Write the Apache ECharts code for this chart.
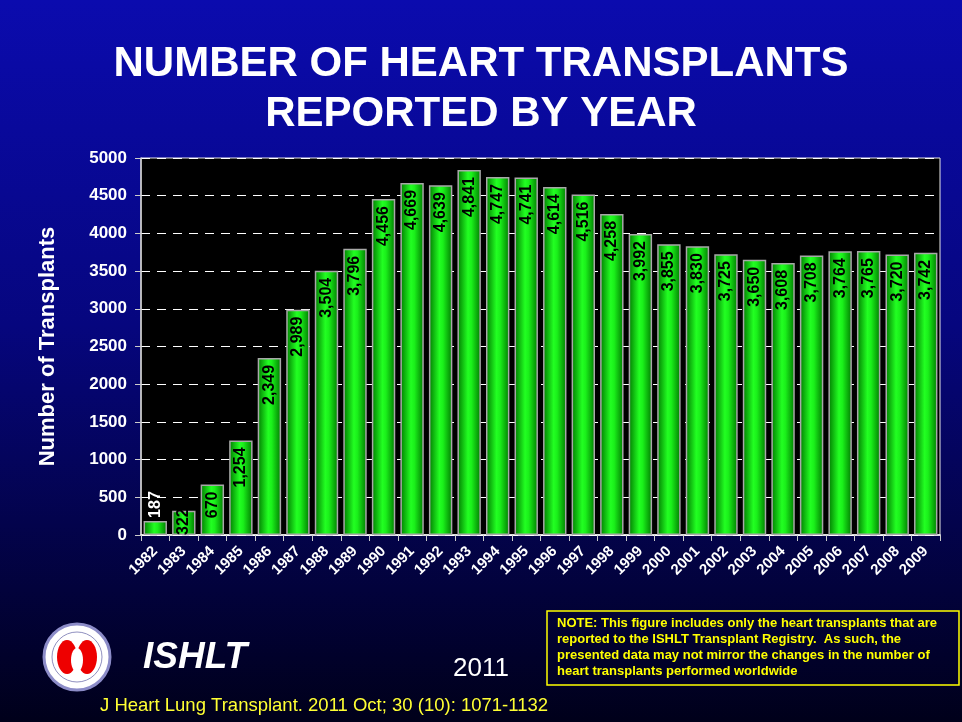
<!DOCTYPE html>
<html>
<head>
<meta charset="utf-8">
<script src="https://cdn.jsdelivr.net/npm/echarts@6/dist/echarts.min.js"></script>
<style>
  html, body { margin: 0; padding: 0; }
  #chart { width: 962px; height: 722px; }
</style>
</head>
<body>
<div id="chart"></div>
<script>
var years = ['1982','1983','1984','1985','1986','1987','1988','1989','1990','1991','1992','1993','1994','1995',
             '1996','1997','1998','1999','2000','2001','2002','2003','2004','2005','2006','2007','2008','2009'];
var transplants = [187, 322, 670, 1254, 2349, 2989, 3504, 3796, 4456, 4669, 4639, 4841, 4747, 4741,
                   4614, 4516, 4258, 3992, 3855, 3830, 3725, 3650, 3608, 3708, 3764, 3765, 3720, 3742];
var yTicks = [0, 500, 1000, 1500, 2000, 2500, 3000, 3500, 4000, 4500, 5000];

var font = 'Liberation Sans, Arial, sans-serif';

var barColor = {
    type: 'linear', x: 0, y: 0, x2: 1, y2: 0,
    colorStops: [
        { offset: 0, color: '#007a00' },
        { offset: 0.45, color: '#22ff22' },
        { offset: 0.6, color: '#1af01a' },
        { offset: 1, color: '#007a00' }
    ]
};

// small bars get their numbers outside / at the bottom
var barData = transplants.map(function(v, i) {
    var item = { value: v };
    if (i === 0) {
        item.label = { position: 'top', align: 'left', color: '#fff', distance: 3 };
    } else if (i === 1) {
        item.label = { position: 'insideBottom', align: 'left', distance: 0 };
    }
    return item;
});

var chart = echarts.init(document.getElementById('chart'));
chart.setOption({
    backgroundColor: {
        type: 'linear', x: 0, y: 0, x2: 0, y2: 1,
        colorStops: [
            { offset: 0, color: '#0b0bae' },
            { offset: 0.45, color: '#06067e' },
            { offset: 1, color: '#00001a' }
        ]
    },
    title: {
        text: 'NUMBER OF HEART TRANSPLANTS\nREPORTED BY YEAR',
        left: 'center',
        top: 34,
        textStyle: { color: '#fff', fontFamily: font, fontWeight: 'bold', fontSize: 42, lineHeight: 50 }
    },
    grid: {
        left: 141, right: 22, top: 158, bottom: 187,
        show: true, backgroundColor: '#000', borderColor: '#e8e8e8', borderWidth: 1
    },
    xAxis: {
        type: 'category',
        data: years,
        axisLine: { lineStyle: { color: '#fff', width: 1.5 } },
        axisTick: { show: true, length: 6, lineStyle: { color: '#ccc' } },
        axisLabel: { color: '#fff', fontFamily: font, fontWeight: 'bold', fontSize: 15, rotate: 45, margin: 14 }
    },
    yAxis: {
        type: 'value',
        min: yTicks[0], max: yTicks[yTicks.length - 1], interval: 500,
        name: 'Number of Transplants',
        nameLocation: 'middle',
        nameGap: 82,
        nameTextStyle: { color: '#fff', fontFamily: font, fontWeight: 'bold', fontSize: 22 },
        axisLine: { show: true, lineStyle: { color: '#ccc', width: 1.5 } },
        axisTick: { show: true, length: 6, lineStyle: { color: '#ccc' } },
        axisLabel: { color: '#fff', fontFamily: font, fontWeight: 'bold', fontSize: 17, margin: 14,
                     formatter: function(v) { return String(v); } },
        splitLine: { lineStyle: { color: '#fff', type: [9, 7], width: 1 } }
    },
    series: [{
        type: 'bar',
        data: barData,
        barCategoryGap: '18%',
        itemStyle: { color: barColor, borderColor: '#a8a8a8', borderWidth: 1.5 },
        label: {
            show: true,
            position: 'insideTop',
            rotate: 90,
            align: 'right',
            verticalAlign: 'middle',
            distance: 7,
            color: '#000',
            fontFamily: font,
            fontWeight: 'bold',
            fontSize: 16,
            formatter: function(p) { return p.value.toLocaleString('en-US'); }
        }
    }],
    graphic: [
        // ISHLT seal
        { type: 'circle', shape: { cx: 77, cy: 657, r: 33 }, style: { fill: '#fff', stroke: '#8c8cc8', lineWidth: 3 } },
        { type: 'circle', shape: { cx: 77, cy: 657, r: 25 }, style: { fill: 'none', stroke: '#9090c0', lineWidth: 1 } },
        { type: 'ellipse', shape: { cx: 67, cy: 657, rx: 10, ry: 17 }, style: { fill: '#ee0000' } },
        { type: 'ellipse', shape: { cx: 87, cy: 657, rx: 10, ry: 17 }, style: { fill: '#ee0000' } },
        { type: 'ellipse', shape: { cx: 77, cy: 660, rx: 6, ry: 12 }, style: { fill: '#fff' } },
        { type: 'text', left: 143, top: 639, style: { text: 'ISHLT', fill: '#fff', font: 'italic bold 37px ' + font } },
        { type: 'text', left: 453, top: 656, style: { text: '2011', fill: '#fff', font: '26px ' + font } },
        { type: 'text', left: 100, top: 696, style: { text: 'J Heart Lung Transplant. 2011 Oct; 30 (10): 1071-1132', fill: '#ffff33', font: '18.5px ' + font } },
        { type: 'rect', shape: { x: 547, y: 611, width: 412, height: 74 }, style: { fill: 'none', stroke: '#ffff00', lineWidth: 1.5 } },
        { type: 'text', left: 557, top: 615, style: {
            text: 'NOTE: This figure includes only the heart transplants that are\nreported to the ISHLT Transplant Registry.  As such, the\npresented data may not mirror the changes in the number of\nheart transplants performed worldwide',
            fill: '#ffff00', font: 'bold 13px ' + font, lineHeight: 16 } }
    ]
});
</script>
</body>
</html>
